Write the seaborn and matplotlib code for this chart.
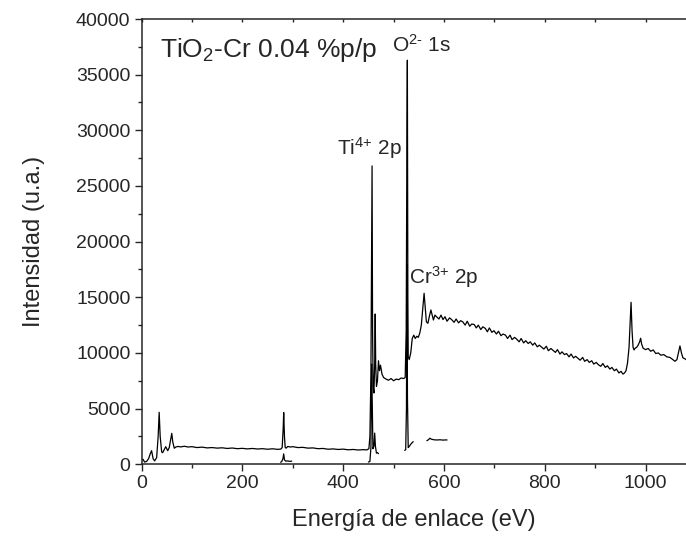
import matplotlib
matplotlib.use("Agg")
import matplotlib.pyplot as plt
import seaborn as sns
from matplotlib.ticker import MultipleLocator

# survey spectrum, split in pieces (binding energy in eV, counts)
energy_low = [0, 3, 6, 10, 14, 17, 20, 23, 26, 30, 33, 35, 37, 40, 42, 45, 48,
              50, 52, 55, 58, 60, 62, 65, 68, 72, 78, 85, 92, 100, 110, 120,
              130, 140, 150, 160, 170, 180, 190, 200, 210, 220, 230, 240, 250,
              260, 270, 276, 279, 281, 282, 283.5, 285, 287, 290, 295, 300,
              310, 320, 330, 340, 350, 360, 370, 380, 390, 400, 410, 420, 430,
              440, 447]
counts_low = [380, 450, 200, 250, 500, 900, 1220, 500, 300, 600, 2500, 4670,
              2500, 1100, 1040, 1300, 1580, 1400, 1220, 1500, 2300, 2780, 2000,
              1440, 1550, 1600, 1560, 1620, 1550, 1580, 1500, 1540, 1470, 1500,
              1450, 1480, 1420, 1460, 1400, 1430, 1380, 1420, 1370, 1400, 1350,
              1390, 1340, 1360, 1500, 3200, 4650, 2500, 1500, 1450, 1600, 1550,
              1580, 1500, 1520, 1450, 1470, 1400, 1420, 1350, 1380, 1330, 1360,
              1300, 1330, 1280, 1310, 1290]

energy_peaks = [451, 453, 455, 456.5, 457.3, 458.3, 459.5, 461, 462.5, 463.5,
                464.5, 466, 468, 470, 472, 474, 477, 480, 485, 490, 495, 500,
                505, 510, 515, 520, 523, 525, 526.5, 527.3, 528.3, 529, 531,
                534, 537, 540, 543, 546, 549, 552, 555, 558, 560.5, 562, 565,
                568, 571, 574, 576, 579, 582]
counts_peaks = [1400, 2500, 8000, 20000, 26800, 12000, 7000, 6400, 9000, 13500,
                9000, 7000, 7500, 9300, 8400, 8900, 8100, 7800, 7650, 7550,
                7700, 7500, 7650, 7600, 7750, 7700, 7800, 12000, 30000, 36300,
                15000, 9670, 9400, 10000, 11300, 11600, 11300, 11500, 11400,
                11800, 12500, 14000, 15360, 14500, 12800, 12660, 13300, 13860,
                13500, 12960, 13400]

energy_slope = [585, 590, 594, 598, 602, 606, 611, 615, 620, 624,
                629, 633, 637, 642, 646, 651, 655, 660, 664, 668,
                673, 677, 682, 686, 690, 695, 699, 704, 708, 713,
                717, 722, 726, 731, 735, 740, 744, 749, 753, 758,
                762, 767, 771, 776, 780, 785, 789, 794, 798, 803,
                807, 812, 816, 821, 825, 830, 834, 839, 843, 848,
                852, 857, 861, 866, 870, 875, 879, 884, 888, 893,
                897, 902, 906, 911, 915, 920, 924, 929, 933, 938,
                942, 947, 951, 955, 958]
counts_slope = [13260, 13050, 13400, 13000, 13250, 12850, 13150, 13000, 12750, 13050,
                12700, 12900, 12800, 12500, 12850, 12400, 12600, 12550, 12250, 12500,
                12100, 12350, 12200, 11900, 12250, 11850, 12000, 11700, 11950, 11550,
                11700, 11600, 11300, 11600, 11200, 11400, 11250, 11000, 11300, 10900,
                11100, 10850, 11000, 10700, 10900, 10550, 10700, 10500, 10350, 10600,
                10200, 10400, 10250, 10050, 10300, 9900, 10100, 9850, 9950, 9650,
                9900, 9550, 9700, 9500, 9350, 9600, 9250, 9400, 9150, 9300,
                9000, 9150, 8950, 8800, 9050, 8700, 8850, 8550, 8700, 8400,
                8550, 8200, 8350, 8100, 8200]

energy_high = [961, 964, 967, 969, 971, 973, 975, 977, 979, 982, 985, 988, 990,
               992, 995, 1000, 1005, 1010, 1015, 1020, 1025, 1030, 1036, 1042,
               1048, 1054, 1058, 1062, 1065, 1068, 1071, 1074, 1077, 1080]
counts_high = [8400, 9100, 10500, 12500, 14550, 12000, 10500, 10270, 10420,
               10500, 10700, 11000, 11320, 10800, 10420, 10300, 10400, 10150,
               10270, 9950, 10000, 9800, 9850, 9650, 9600, 9400, 9250, 9400,
               10000, 10630, 10000, 9550, 9500, 9400]

# short high-resolution region scans drawn over the survey
energy_c = [276, 278, 280.5, 282, 283.5, 286, 290, 294, 298]
counts_c = [180, 235, 500, 930, 400, 280, 300, 260, 280]

energy_ti = [450, 453, 455, 456.5, 457.5, 459, 461, 462.5, 464, 466, 468, 470]
counts_ti = [200, 250, 1500, 9000, 6000, 1400, 1600, 2800, 1600, 1000, 1050, 950]

energy_o = [522, 524, 525.5, 526.5, 527.5, 529, 531, 534, 537, 539]
counts_o = [1250, 1300, 5000, 18000, 6000, 1500, 1600, 1800, 1950, 2030]

energy_cr = [566, 569, 572, 575, 580, 586, 592, 598, 604, 606]
counts_cr = [2120, 2200, 2340, 2250, 2200, 2180, 2200, 2170, 2190, 2180]

energy_main = energy_low + energy_peaks + energy_slope + energy_high
counts_main = counts_low + counts_peaks + counts_slope + counts_high

sns.set_style("ticks")
plt.rcParams["font.family"] = ["Liberation Sans", "DejaVu Sans"]
plt.rcParams["mathtext.fontset"] = "custom"
plt.rcParams["mathtext.rm"] = "Liberation Sans"
plt.rcParams["mathtext.it"] = "Liberation Sans"

fig = plt.figure(figsize=(6.86, 5.43), dpi=100)
ax = fig.add_axes([0.2063, 0.145, 0.7937, 0.82])

for xs, ys in [(energy_main, counts_main), (energy_c, counts_c),
               (energy_ti, counts_ti), (energy_o, counts_o),
               (energy_cr, counts_cr)]:
    sns.lineplot(x=xs, y=ys, ax=ax, color="black", linewidth=0.9,
                 sort=False, estimator=None)

ax.set_xlim(0, 1080)
ax.set_ylim(0, 40000)
ax.xaxis.set_major_locator(MultipleLocator(200))
ax.xaxis.set_minor_locator(MultipleLocator(100))
ax.yaxis.set_major_locator(MultipleLocator(5000))
ax.yaxis.set_minor_locator(MultipleLocator(2500))
ax.tick_params(axis="both", which="major", direction="out", length=5,
               width=1, labelsize=14, pad=3)
ax.tick_params(axis="both", which="minor", direction="out", length=3, width=1)
# tiny inward marks along the top frame
ax.tick_params(axis="x", which="both", top=True, labeltop=False)
for t in ax.xaxis.get_major_ticks() + ax.xaxis.get_minor_ticks():
    t.tick2line.set_marker(3)
    t.tick2line.set_markersize(2.5)
for side in ["left", "bottom", "top"]:
    ax.spines[side].set_linewidth(1.1)
ax.spines["right"].set_visible(False)

ax.set_xlabel("Energía de enlace (eV)", fontsize=17, labelpad=12)
ax.set_ylabel("Intensidad (u.a.)", fontsize=17, labelpad=22)

ax.text(37, 37200, r"TiO$_2$-Cr 0.04 %p/p", fontsize=19, va="center", ha="left")
ax.text(387, 28400, r"Ti$^{4{+}}$ 2p", fontsize=15, va="center", ha="left")
ax.text(496, 37700, r"O$^{2\text{-}}$ 1s", fontsize=15, va="center", ha="left")
ax.text(531, 16800, r"Cr$^{3{+}}$ 2p", fontsize=15, va="center", ha="left")

fig.savefig("out.png", dpi=100)
